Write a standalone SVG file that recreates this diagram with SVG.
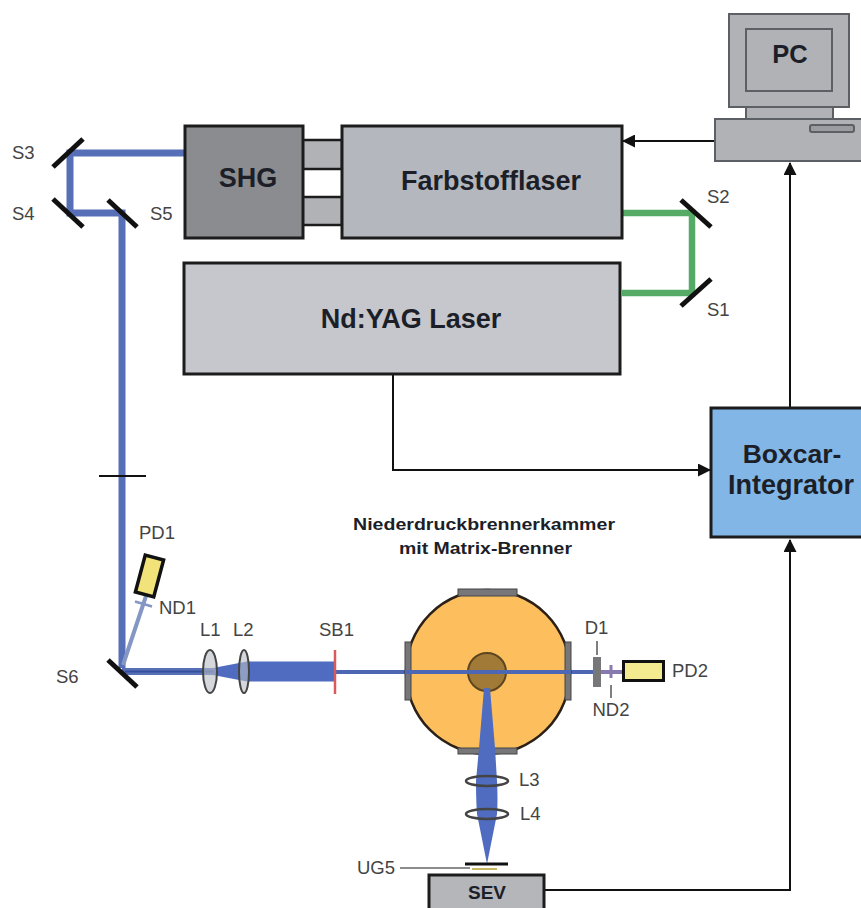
<svg xmlns="http://www.w3.org/2000/svg" width="861" height="908" viewBox="0 0 861 908">
<style>
text{font-family:"Liberation Sans",Arial,sans-serif}
.l{font-size:18.5px;fill:#444}
.b{font-weight:bold;fill:#1c1f28;text-anchor:middle}
.t{font-size:27px}
.box{stroke:#1c1c1c;stroke-width:3}
.pc{fill:#b0b2b6;stroke:#5c5f63;stroke-width:2}
.m{stroke:#111;stroke-width:5;fill:none}
.w{fill:none;stroke:#111;stroke-width:2}
.blue{fill:none;stroke:#566fb6;stroke-width:7}
.thin{fill:none;stroke:#4c68b4;stroke-width:4}
.green{fill:none;stroke:#55ab66;stroke-width:6.5}
.tick{stroke:#555;stroke-width:1.5}
.beam{fill:#4f6cc0;stroke:none}
.lens{fill:#b8bcc4;fill-opacity:.6;stroke:#444;stroke-width:2}
.lens2{fill:none;stroke:#444;stroke-width:2.5}
.win{fill:#77777a;stroke:#444;stroke-width:1}
</style>
<defs>
<marker id="a" markerWidth="13" markerHeight="13" refX="12" refY="6.5" orient="auto" markerUnits="userSpaceOnUse"><path d="M0 0L13 6.5L0 13Z" fill="#111"/></marker>
</defs>
<rect width="861" height="908" fill="#fff"/>
<g id="connectors">
<path class="w" marker-end="url(#a)" d="M714 141H623"/>
<path class="w" marker-end="url(#a)" d="M790 407V163"/>
<path class="w" marker-end="url(#a)" d="M393 375V470H710"/>
<path class="w" marker-end="url(#a)" d="M545 890H790V540"/>
<path class="green" d="M622 213H692V293H622"/>
<path class="blue" d="M185 153H70V213H122V668"/>
<path d="M99 476H146" stroke="#111" stroke-width="2"/>
<path d="M123 665L146 596" stroke="#8496c4" stroke-width="4" fill="none"/>
<path class="blue" d="M122 671.500H213"/>
<path d="M125 671.500H213" stroke="#35509c" stroke-width="2" fill="none"/>
<path class="beam" d="M213 668L247 661.500H335V681.500H247L213 675Z"/>
<path class="thin" d="M335 672H593"/>
<path d="M601 672H622" stroke="#8878b0" stroke-width="4" fill="none"/>
</g>
<g id="pc">
<rect class="pc" x="729" y="14" width="120" height="93"/>
<rect class="pc" x="746" y="29" width="86" height="62"/>
<rect class="pc" x="746" y="107" width="87" height="12"/>
<rect class="pc" x="715" y="119" width="150" height="42"/>
<rect x="810" y="125" width="44" height="7" rx="2" fill="#9a9ca0" stroke="#5c5f63" stroke-width="2"/>
<text class="b" x="790" y="63" font-size="25.500">PC</text>
</g>
<g id="shg-link">
<rect x="302" y="140" width="40" height="29" fill="#b0b2b6" stroke="#1c1c1c" stroke-width="2.500"/>
<rect x="302" y="197" width="40" height="28" fill="#b0b2b6" stroke="#1c1c1c" stroke-width="2.500"/>
</g>
<g id="shg">
<rect class="box" x="185" y="126" width="118" height="112" fill="#8b8c90"/>
<text class="b t" x="248" y="187">SHG</text>
</g>
<g id="farbstofflaser">
<rect class="box" x="342" y="126" width="280" height="112" fill="#b4b7bd"/>
<text class="b t" x="491" y="190">Farbstofflaser</text>
</g>
<g id="ndyag">
<rect class="box" x="184" y="263" width="436" height="111" fill="#c5c7cc"/>
<text class="b t" x="411" y="328">Nd:YAG Laser</text>
</g>
<g id="boxcar">
<rect class="box" x="711" y="408" width="152" height="129" fill="#82b6e6"/>
<text class="b" x="792" y="463" font-size="26.500">Boxcar-</text>
<text class="b t" x="791" y="494">Integrator</text>
</g>
<g id="mirrors">
<path class="m" d="M53 167L83 139"/><text class="l" x="12" y="159">S3</text>
<path class="m" d="M53 199L83 227"/><text class="l" x="12" y="220">S4</text>
<path class="m" d="M108 200L137 227"/><text class="l" x="150" y="220">S5</text>
<path class="m" d="M681 200L711 227"/><text class="l" x="707" y="203">S2</text>
<path class="m" d="M681 306L711 279"/><text class="l" x="707" y="316">S1</text>
<path class="m" d="M108 660L137 687"/><text class="l" x="56" y="683">S6</text>
</g>
<g id="pd1">
<rect x="-9.500" y="-19" width="19" height="38" fill="#f2e27a" stroke="#111" stroke-width="3.500" transform="translate(149.500 576) rotate(15)"/>
<path d="M135 601.500L152 606.500" stroke="#8496c4" stroke-width="2.500"/>
<text class="l" x="139" y="539">PD1</text>
<text class="l" x="159" y="614">ND1</text>
</g>
<g id="optics">
<ellipse class="lens" cx="210" cy="671.500" rx="7" ry="21.500"/>
<ellipse class="lens" cx="244" cy="671.500" rx="5" ry="21.500"/>
<path d="M335 650V694" stroke="#d85a5a" stroke-width="2.500"/>
<text class="l" x="200" y="636">L1</text>
<text class="l" x="233" y="636">L2</text>
<text class="l" x="319" y="636">SB1</text>
</g>
<g id="chamber">
<text class="b" x="484" y="530" font-size="16.500" textLength="262" lengthAdjust="spacingAndGlyphs">Niederdruckbrennerkammer</text>
<text class="b" x="485.500" y="554" font-size="16.500" textLength="173" lengthAdjust="spacingAndGlyphs">mit Matrix-Brenner</text>
<circle cx="488" cy="672" r="82" fill="#fdbf5e" stroke="#2a2018" stroke-width="2.500"/>
<rect class="win" x="458" y="589" width="59" height="7"/>
<rect class="win" x="458" y="748" width="59" height="6"/>
<rect class="win" x="405" y="642" width="6" height="58"/>
<rect class="win" x="565" y="642" width="6" height="58"/>
<circle cx="487" cy="672" r="19" fill="#a07a36" stroke="#5c4620" stroke-width="2"/>
<path class="thin" d="M405 672H571"/>
<path class="beam" d="M484 688H490L495 748L497 781Q498 800 497 814L487 864L477 814Q476 800 476 781L479 748Z"/>
</g>
<g id="pd2">
<rect x="593" y="657" width="8" height="30" fill="#77777a"/>
<path d="M611 665V678" stroke="#8a7ab0" stroke-width="3"/>
<path d="M597 641V655M611 685V698" class="tick"/>
<rect x="623.500" y="661.500" width="40" height="19" fill="#f4ea90" stroke="#111" stroke-width="3"/>
<text class="l" x="596.500" y="634" text-anchor="middle">D1</text>
<text class="l" x="611" y="716" text-anchor="middle">ND2</text>
<text class="l" x="672" y="677">PD2</text>
</g>
<g id="detector">
<ellipse class="lens2" cx="487" cy="781" rx="21" ry="5"/>
<ellipse class="lens2" cx="487" cy="814" rx="21" ry="5"/>
<text class="l" x="519" y="786">L3</text>
<text class="l" x="520" y="820">L4</text>
<path d="M465 864H508" stroke="#111" stroke-width="3"/>
<path d="M472 869H497" stroke="#c8b860" stroke-width="2"/>
<path d="M400 868H470" stroke="#666" stroke-width="1.500"/>
<text class="l" x="357" y="874">UG5</text>
<rect x="429" y="875" width="115" height="35" fill="#b4b6ba" stroke="#1c1c1c" stroke-width="3"/>
<text class="b" x="487" y="899" font-size="19">SEV</text>
</g>
</svg>
